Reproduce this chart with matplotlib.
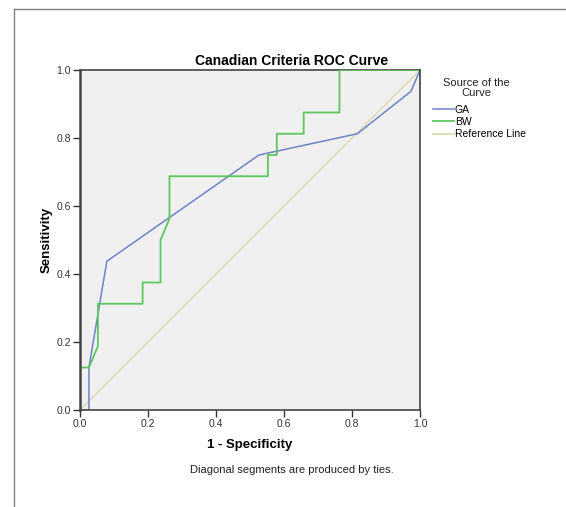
import matplotlib
matplotlib.use("Agg")
import matplotlib.pyplot as plt
from matplotlib.lines import Line2D

plt.rcParams['font.family'] = ['Liberation Sans', 'DejaVu Sans']

# ROC points (1 - specificity, sensitivity)
ga_fpr = [0.0, 0.0263, 0.0263, 0.0789, 0.5263, 0.8158, 0.9737, 1.0]
ga_tpr = [0.0, 0.0, 0.125, 0.4375, 0.75, 0.8125, 0.9375, 1.0]

bw_fpr = [0.0, 0.0, 0.0263, 0.0526, 0.0526, 0.1842, 0.1842, 0.2368, 0.2368,
          0.2632, 0.2632, 0.5526, 0.5526, 0.5789, 0.5789, 0.6579, 0.6579,
          0.7632, 0.7632, 1.0]
bw_tpr = [0.0, 0.125, 0.125, 0.1875, 0.3125, 0.3125, 0.375, 0.375, 0.5,
          0.5625, 0.6875, 0.6875, 0.75, 0.75, 0.8125, 0.8125, 0.875,
          0.875, 1.0, 1.0]

ref_line = [0.0, 1.0]
ticks = [0.0, 0.2, 0.4, 0.6, 0.8, 1.0]

c_ga = "#6e84c8"
c_bw = "#5cc85c"
c_ref = "#ddd8b0"
tick_col = "#333333"

fig = plt.figure(figsize=(5.66, 5.07), dpi=100)
fig.patch.set_facecolor("white")

# outer frame (top + left edges visible)
fig.add_artist(Line2D([14/566, 14/566], [0, 1 - 9/507], transform=fig.transFigure,
                      color="#808080", lw=1.0))
fig.add_artist(Line2D([14/566, 1], [1 - 9/507, 1 - 9/507], transform=fig.transFigure,
                      color="#808080", lw=1.0))

ax = fig.add_axes([80/566, 1 - 410/507, 340/566, 340/507])
ax.set_facecolor("#f0f0f0")

ax.plot(ref_line, ref_line, color=c_ref, lw=1.0, label="Reference Line", zorder=2)
ax.plot(ga_fpr, ga_tpr, color=c_ga, lw=1.1, label="GA", zorder=3)
ax.plot(bw_fpr, bw_tpr, color=c_bw, lw=1.3, label="BW", zorder=3)

ax.set_xlim(0, 1)
ax.set_ylim(0, 1)
ax.set_xticks(ticks)
ax.set_yticks(ticks)
ax.set_xticklabels(["%.1f" % t for t in ticks])
ax.set_yticklabels(["%.1f" % t for t in ticks])
ax.tick_params(direction="out", length=5, width=1, labelsize=7.5, colors=tick_col,
               pad=1.5)
for name, s in ax.spines.items():
    s.set_color("#444444")
    s.set_linewidth(1.2)
    s.set_zorder(5)
ax.spines["left"].set_linewidth(1.8)
ax.spines["top"].set_zorder(1)

ax.set_xlabel("1 - Specificity", fontsize=9.5, fontweight="bold", labelpad=7)
ax.set_ylabel("Sensitivity", fontsize=9.5, fontweight="bold", labelpad=3)

fig.text(292/566, 1 - 61/507, "Canadian Criteria ROC Curve", ha="center", va="center",
         fontsize=10, fontweight="bold")
fig.text(292/566, 1 - 470/507, "Diagonal segments are produced by ties.",
         ha="center", va="center", fontsize=8, color="#222222")

# legend
fig.text(476/566, 1 - 88/507, "Source of the\nCurve", ha="center", va="center",
         fontsize=8, color="#222222", linespacing=0.95)
handles = [Line2D([], [], color=c_ga, lw=1.1),
           Line2D([], [], color=c_bw, lw=1.3),
           Line2D([], [], color=c_ref, lw=1.3)]
fig.legend(handles, ["GA", "BW", "Reference Line"], loc="upper left",
           bbox_to_anchor=(433/566, 1 - 105/507), frameon=False, fontsize=7.5,
           handlelength=2.0, handletextpad=0.1, labelspacing=0.2,
           borderpad=0, borderaxespad=0)

fig.savefig("out.png", dpi=100)
